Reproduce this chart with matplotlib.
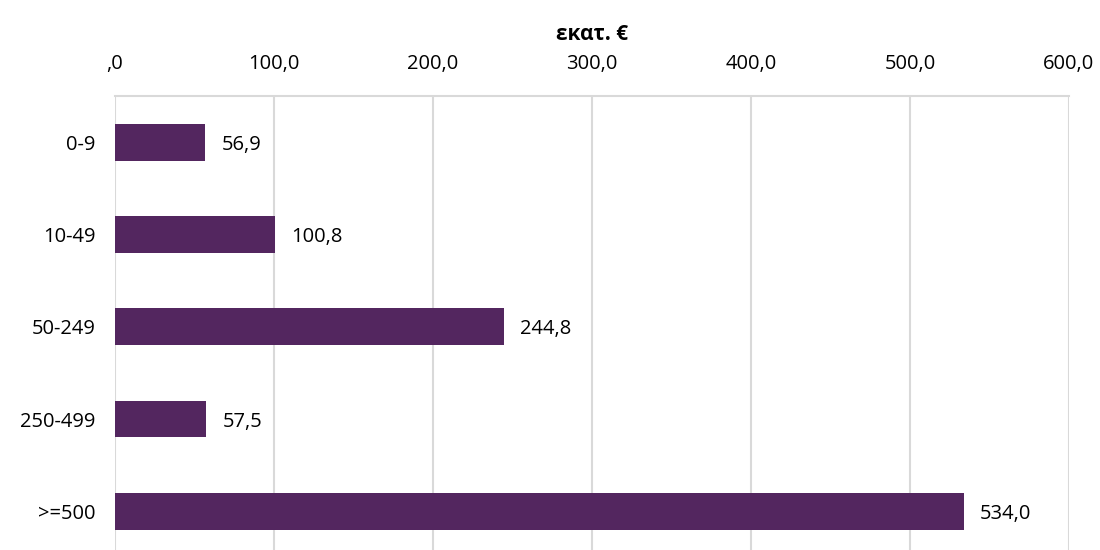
import matplotlib.pyplot as plt

# company size classes (employees) and amounts in million euro
categories = ['0-9', '10-49', '50-249', '250-499', '>=500']
values = [56.9, 100.8, 244.8, 57.5, 534.0]
ticks = [0, 100, 200, 300, 400, 500, 600]


def gr_fmt(v):
    # Greek Excel style: comma decimal, zero shown as ",0"
    if v == 0:
        return ',0'
    return f'{v:.1f}'.replace('.', ',')


plt.rcParams['font.family'] = ['Open Sans', 'DejaVu Sans']

fig = plt.figure(figsize=(11, 5.5), dpi=100)
ax = fig.add_axes([0.1045, -0.0136, 0.8673, 0.8391])

y = range(len(categories))
bars = ax.barh(y, values, height=0.4, color='#53265F', zorder=3)

for bar, v in zip(bars, values):
    ax.text(bar.get_width() + 10, bar.get_y() + bar.get_height() / 2, gr_fmt(v),
            ha='left', va='center_baseline', fontsize=14.5, color='black')

ax.set_xlim(0, 600)
ax.set_ylim(4.5, -0.5)
ax.set_yticks(list(y))
ax.set_yticklabels(categories, fontsize=14.5)
ax.set_xticks(ticks)
ax.set_xticklabels([gr_fmt(t) for t in ticks], fontsize=14.5)

ax.xaxis.tick_top()
ax.xaxis.set_label_position('top')
ax.set_xlabel('εκατ. €', fontsize=15, fontweight='bold', labelpad=10)

ax.grid(axis='x', color='#D9D9D9', linewidth=1.5, zorder=0)
ax.tick_params(axis='x', length=0, pad=16)
ax.tick_params(axis='y', length=0, pad=14)
for side in ['left', 'right', 'bottom']:
    ax.spines[side].set_visible(False)
ax.spines['top'].set_color('#D9D9D9')
ax.spines['top'].set_linewidth(1.5)

fig.savefig('out.png', dpi=100)
